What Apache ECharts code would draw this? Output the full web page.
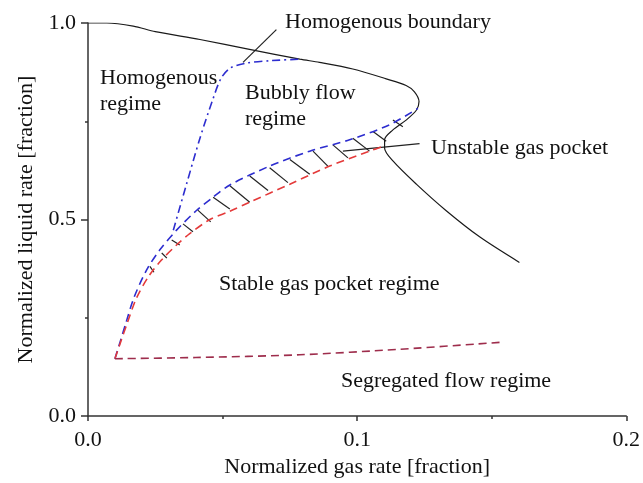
<!DOCTYPE html>
<html>
<head>
<meta charset="utf-8">
<script src="https://cdn.jsdelivr.net/npm/echarts@6/dist/echarts.min.js"></script>
<style>
html,body{margin:0;padding:0;background:#fff;}
#main{width:643px;height:483px;}
</style>
</head>
<body>
<div id="main"></div>
<script>
// flow regime boundaries, [gas rate, liquid rate]
var outerBoundary = [[0.0,1.0],[0.007,1.0],[0.0168,0.992],[0.0250,0.978],[0.0416,0.958],[0.060,0.933],[0.0787,0.908],[0.086,0.900],[0.0984,0.883],[0.1108,0.858],[0.1182,0.841],[0.1213,0.825],[0.123,0.80],[0.122,0.778],[0.1182,0.753],[0.1133,0.728],[0.1102,0.703],[0.1102,0.682],[0.1133,0.649],[0.122,0.590],[0.133,0.523],[0.1455,0.456],[0.1603,0.391]];
var homogenousLine = [[0.0317,0.473],[0.0366,0.590],[0.0416,0.707],[0.0465,0.808],[0.0495,0.860],[0.0530,0.886],[0.0589,0.898],[0.0675,0.904],[0.0785,0.908]];
var upperPocket = [[0.010,0.146],[0.0120,0.190],[0.0140,0.235],[0.0170,0.300],[0.0218,0.372],[0.0267,0.423],[0.0329,0.473],[0.0403,0.523],[0.0465,0.557],[0.0527,0.588],[0.0675,0.636],[0.0824,0.674],[0.0972,0.703],[0.112,0.741],[0.1226,0.783]];
var lowerPocket = [[0.010,0.146],[0.0122,0.190],[0.0145,0.235],[0.0180,0.300],[0.0225,0.355],[0.0273,0.397],[0.0335,0.439],[0.0378,0.464],[0.0453,0.500],[0.0527,0.521],[0.060,0.544],[0.075,0.590],[0.0898,0.636],[0.1046,0.674],[0.110,0.687]];
var segregatedLine = [[0.010,0.146],[0.040,0.149],[0.0787,0.156],[0.1158,0.170],[0.154,0.188]];
var hatchTop = [[0.0230,0.381],[0.0274,0.415],[0.0311,0.448],[0.0353,0.489],[0.0408,0.524],[0.0465,0.557],[0.0527,0.586],[0.0601,0.611],[0.0675,0.632],[0.0750,0.653],[0.0836,0.674],[0.0910,0.690],[0.0984,0.707],[0.1059,0.724],[0.1133,0.753]];
var hatchBottom = [[0.0245,0.366],[0.0293,0.402],[0.0341,0.435],[0.0390,0.469],[0.0456,0.494],[0.0527,0.527],[0.0601,0.544],[0.0669,0.574],[0.0743,0.594],[0.0824,0.615],[0.0891,0.636],[0.0966,0.657],[0.1046,0.674],[0.1108,0.699],[0.1170,0.736]];
var leaderLines = [[[0.070,0.983],[0.0576,0.900]],[[0.1232,0.693],[0.0947,0.674]]];

var font = 'Liberation Serif';
var myChart = echarts.init(document.getElementById('main'));

var hatchData = [];
for (var i = 0; i < hatchTop.length; i++) {
    hatchData.push({coords: [hatchTop[i], hatchBottom[i]]});
}
var leaderData = leaderLines.map(function (l) { return {coords: l}; });

// annotation text, y is the middle of the line
function txt(s, left, y) {
    return {
        type: 'text', left: left, top: y - 11,
        style: {text: s, font: '22px "' + font + '"', fill: '#111'}
    };
}

var option = {
    animation: false,
    backgroundColor: '#fff',
    grid: {left: 88, right: 16, top: 23, bottom: 61.5},
    xAxis: {
        type: 'value', min: 0, max: 0.2, interval: 0.1,
        name: 'Normalized gas rate [fraction]', nameLocation: 'middle', nameGap: 36,
        nameTextStyle: {fontFamily: font, fontSize: 22, color: '#111'},
        axisLine: {lineStyle: {color: '#333', width: 1.5}},
        axisTick: {length: 5, lineStyle: {color: '#333', width: 1.5}},
        minorTick: {show: true, splitNumber: 2, length: 3, lineStyle: {color: '#333', width: 1.5}},
        splitLine: {show: false},
        axisLabel: {fontFamily: font, fontSize: 22, color: '#111', margin: 13,
            formatter: function (v) { return v.toFixed(1); }}
    },
    yAxis: {
        type: 'value', min: 0, max: 1, interval: 0.5,
        name: 'Normalized liquid rate [fraction]', nameLocation: 'middle', nameGap: 50,
        nameTextStyle: {fontFamily: font, fontSize: 22, color: '#111'},
        axisLine: {show: true, lineStyle: {color: '#333', width: 1.5}},
        axisTick: {show: true, length: 7, lineStyle: {color: '#333', width: 1.5}},
        minorTick: {show: true, splitNumber: 2, length: 3, lineStyle: {color: '#333', width: 1.5}},
        splitLine: {show: false},
        axisLabel: {fontFamily: font, fontSize: 22, color: '#111', margin: 12,
            formatter: function (v) { return v.toFixed(1); }}
    },
    series: [
        {type: 'line', data: outerBoundary, smooth: 0.3, showSymbol: false,
            lineStyle: {color: '#1a1a1a', width: 1.2}},
        {type: 'line', data: homogenousLine, smooth: 0.3, showSymbol: false,
            lineStyle: {color: '#2d2dcf', width: 1.6, type: [8, 4, 2, 4]}},
        {type: 'line', data: upperPocket, smooth: 0.3, showSymbol: false,
            lineStyle: {color: '#2d2dcf', width: 1.6, type: [8, 5]}},
        {type: 'line', data: lowerPocket, smooth: 0.3, showSymbol: false,
            lineStyle: {color: '#e43a3a', width: 1.6, type: [8, 5]}},
        {type: 'line', data: segregatedLine, smooth: 0.3, showSymbol: false,
            lineStyle: {color: '#9e2d4c', width: 1.6, type: [8, 5]}},
        {type: 'lines', coordinateSystem: 'cartesian2d', data: hatchData,
            lineStyle: {color: '#222', width: 1.2, opacity: 1}},
        {type: 'lines', coordinateSystem: 'cartesian2d', data: leaderData,
            lineStyle: {color: '#222', width: 1.2, opacity: 1}}
    ],
    graphic: [
        txt('Homogenous boundary', 285, 22),
        txt('Homogenous', 100, 78),
        txt('regime', 100, 104),
        txt('Bubbly flow', 245, 93),
        txt('regime', 245, 119),
        txt('Unstable gas pocket', 431, 148),
        txt('Stable gas pocket regime', 219, 284),
        txt('Segregated flow regime', 341, 381)
    ]
};

myChart.setOption(option);
</script>
</body>
</html>
